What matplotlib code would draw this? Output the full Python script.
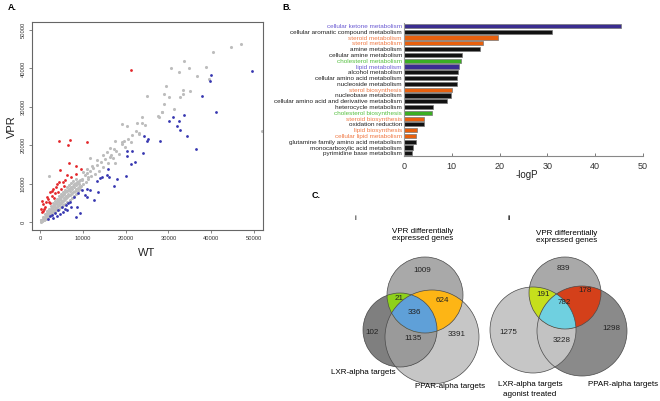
import numpy as np
import matplotlib
matplotlib.use('Agg')
import matplotlib.pyplot as plt
from matplotlib.patches import Circle, Polygon

plt.rcParams['font.family'] = ['Liberation Sans', 'DejaVu Sans']

# ---- panel A: scatter (WT, VPR) ----
gray_pts = [
    (150, 100), (300, 400), (450, 250), (600, 700), (700, 400), (850, 1000), (950, 650), (1100, 1400),
    (1200, 900), (1300, 1700), (1450, 1150), (1500, 2000), (1650, 1400), (1750, 2300), (1850, 1600),
    (1950, 2600), (2050, 1900), (2200, 2900), (2300, 2100), (2400, 3200), (2550, 2400), (2650, 3500),
    (2750, 2600), (2850, 3800), (3000, 2900), (3100, 4100), (3200, 3200), (3300, 4400), (3450, 3400),
    (3550, 4700), (3650, 3700), (3750, 5000), (3900, 3900), (4000, 5300), (4100, 4200), (4250, 5600),
    (4350, 4400), (4450, 5900), (4600, 4700), (4700, 6200), (4800, 5000), (4950, 6500), (5100, 5200),
    (5200, 6800), (5300, 5500), (5450, 7100), (5600, 5800), (5700, 7400), (5850, 6000), (5950, 7700),
    (6100, 6300), (6250, 8000), (6350, 6600), (6500, 8300), (6650, 6800), (6750, 8600), (6900, 7100),
    (7050, 8900), (7200, 7300), (7350, 9200), (7500, 7600), (7650, 9500), (7800, 7900), (7950, 9800),
    (8100, 8200), (8300, 10100), (8450, 8500), (8600, 10400), (8800, 8800), (9000, 10700), (9200, 9100),
    (9400, 11000), (9600, 9400), (9850, 11300),
    (500, 500), (1000, 1100), (1500, 1600), (2000, 2200), (2500, 2800), (3000, 3400), (3500, 4000),
    (4000, 4600), (4500, 5100), (5000, 5800), (5500, 6300), (6000, 6900), (6500, 7400), (7000, 8000),
    (7500, 8500), (8000, 9100), (8500, 9600), (9000, 9900),
    (250, 600), (750, 1300), (1250, 2100), (1700, 2800), (2200, 3500), (2650, 4200), (3100, 4900),
    (3550, 5500), (4000, 6100), (4450, 6700), (4900, 7300), (5350, 7800), (5800, 8400), (6300, 9000),
    (6800, 9600), (7300, 10200), (7800, 10800), (8300, 11300),
    (400, 150), (900, 500), (1400, 800), (1900, 1200), (2400, 1700), (2900, 2100), (3400, 2500),
    (3900, 3000), (4400, 3400), (4900, 3900), (5400, 4300), (5900, 4800), (6400, 5300), (6900, 5800),
    (7400, 6300), (7900, 6900), (8400, 7400), (8900, 8000), (9400, 8500),
    (10100, 10000), (10400, 12200), (10700, 10500), (11000, 12800), (11300, 11200), (11700, 13300),
    (12000, 12000), (12400, 14000), (12800, 12600), (13300, 14800), (13700, 13400), (14200, 15600),
    (14800, 14200), (15300, 16400), (15900, 15400), (16500, 17400), (17000, 16600), (17800, 18600),
    (18400, 17800), (19200, 20200), (19800, 19600), (20500, 21600), (21300, 20900), (22400, 23800),
    (23200, 22800), (24500, 25200),
    (11680, 16560), (13240, 16120), (14790, 17420), (15580, 18280), (16350, 16980), (17520, 15260),
    (10900, 13700), (10120, 13080), (12070, 14560), (11290, 11780), (9740, 10920), (8950, 10220),
    (2100, 12000), (19620, 21140), (19080, 20720), (17520, 21140), (17290, 18900), (16350, 19160),
    (23130, 23220), (23760, 25660), (22590, 25820), (21420, 22620), (20250, 24960), (19230, 25480),
    (27640, 27560), (28570, 28680), (23900, 27300), (27870, 27380), (28420, 28520), (29040, 30600),
    (31370, 29300), (25070, 32760), (28970, 33360), (30060, 32500), (29360, 35440), (32700, 32500),
    (33330, 33460), (33330, 34320), (35040, 34060), (30680, 40040), (32470, 39180), (33640, 42040),
    (34880, 40040), (36600, 37960), (38780, 40300), (39480, 37180), (40340, 44200), (44550, 45680),
    (46880, 46280), (51790, 23740),
]
red_pts = [
    (21190, 39500), (4440, 21140), (7010, 21400), (6610, 20100), (11050, 20720), (6770, 15340),
    (8340, 14480), (4670, 13520), (9510, 13700), (6240, 12220), (8410, 12480), (7200, 11600),
    (4510, 10480), (5300, 10480), (3110, 8580), (2340, 7720), (3500, 7460), (4280, 7880), (1560, 6420),
    (540, 5540), (1940, 5900), (630, 4600), (160, 3300), (1170, 3980), (2340, 4860), (770, 2860),
    (3800, 9200), (2700, 6900), (1300, 5100), (400, 2500), (5600, 9300), (4900, 8700), (3300, 6300),
    (900, 3500), (2000, 5300), (2900, 8000), (5800, 11000), (3900, 10000),
]
blue_pts = [
    (49600, 39340), (39950, 38300), (39710, 36740), (37920, 32940), (41040, 28600), (33710, 27900),
    (31140, 27300), (30200, 26340), (32470, 26340), (32070, 25040), (32700, 23920), (34410, 22360),
    (36440, 18980), (28030, 21140), (25300, 21500), (24920, 21060), (24130, 17860), (24290, 22440),
    (20250, 18460), (21420, 18540), (20400, 17240), (22190, 15520), (21190, 15000), (20090, 11960),
    (17910, 11100), (17360, 9360), (15960, 13700), (16190, 11780), (14020, 11360), (13620, 7880),
    (12610, 5720), (11050, 6580), (10510, 7020), (9340, 2260), (8410, 1220), (2340, 1560), (3500, 2260),
    (4280, 3120), (5070, 3980), (6070, 4420), (7010, 5280), (7940, 6420), (8950, 7460), (9740, 8320),
    (4670, 2000), (3110, 960), (5440, 2680), (4050, 1560), (7170, 3820), (8570, 3980), (10900, 8580),
    (11680, 8320), (13240, 10660), (14410, 11780), (15720, 12220), (6240, 3120), (1800, 900),
    (2800, 1700), (6600, 4900), (5800, 3400),
]

# ---- panel B: GO terms ----
terms = ['cellular ketone metabolism', 'cellular aromatic compound metabolism', 'steroid metabolism',
         'sterol metabolism', 'amine metabolism', 'cellular amine metabolism', 'cholesterol metabolism',
         'lipid metabolism', 'alcohol metabolism', 'cellular amino acid metabolism', 'nucleoside metabolism',
         'sterol biosynthesis', 'nucleobase metabolism', 'cellular amino acid and derivative metabolism',
         'heterocycle metabolism', 'cholesterol biosynthesis', 'steroid biosynthesis', 'oxidation reduction',
         'lipid biosynthesis', 'cellular lipid metabolism', 'glutamine family amino acid metabolism',
         'monocarboxylic acid metabolism', 'pyrimidine base metabolism']
logp = [45.3, 31.0, 19.7, 16.6, 15.9, 12.1, 12.0, 11.5, 11.3, 11.0, 11.0, 10.0, 9.8, 8.9, 6.1, 5.9,
        4.2, 4.2, 2.8, 2.6, 2.5, 1.8, 1.6]
groups = ['p', 'k', 'o', 'o', 'k', 'k', 'g', 'p', 'k', 'k', 'k', 'o', 'k', 'k', 'k', 'g', 'o', 'k',
          'o', 'o', 'k', 'k', 'k']

# ---- panel C: Venn counts ----
venn1_counts = [1009, 21, 624, 336, 102, 1135, 3391]
venn2_counts = [839, 191, 178, 782, 1275, 3228, 1298]

W, H = 660, 401
fig = plt.figure(figsize=(6.6, 4.01), dpi=100)


def px_rect(l, t, r, b):
    return [l / W, 1 - b / H, (r - l) / W, (b - t) / H]


# scatter
ax = fig.add_axes(px_rect(32, 22, 263, 230))
ax.scatter(*zip(*gray_pts), s=5, color='#bdbdbd', linewidths=0)
ax.scatter(*zip(*red_pts), s=4, color='#e3262a', linewidths=0)
ax.scatter(*zip(*blue_pts), s=4, color='#3636b0', linewidths=0)
ax.set_xlim(-1870, 52100)
ax.set_ylim(-2080, 52080)
ax.set_xticks(range(0, 50001, 10000))
ax.set_yticks(range(0, 50001, 10000))
ax.tick_params(labelsize=4.2, length=2.5, width=0.5, color='#555', labelcolor='#333', pad=2)
for lab in ax.get_yticklabels():
    lab.set_rotation(90)
    lab.set_va('center')
for s in ax.spines.values():
    s.set_color('#666')
    s.set_linewidth(0.8)

# bar chart
bx = fig.add_axes(px_rect(404, 23.1, 643, 156.2))
cmap_bar = {'p': '#3a2d8f', 'k': '#111111', 'o': '#e8600e', 'g': '#3aae22'}
cmap_txt = {'p': '#6b5bd2', 'k': '#222222', 'o': '#f07a45', 'g': '#55c040'}
y = np.arange(len(terms))
bx.barh(y, logp, height=0.72, color=[cmap_bar[g] for g in groups], edgecolor='#777', linewidth=0.5)
bx.set_ylim(len(terms) - 0.5, -0.5)
bx.set_xlim(0, 50)
bx.set_yticks(y)
bx.set_yticklabels(terms, fontsize=4.6)
for lab, g in zip(bx.get_yticklabels(), groups):
    lab.set_color(cmap_txt[g])
bx.tick_params(axis='y', length=0, pad=1.5)
bx.set_xticks(range(0, 51, 10))
bx.tick_params(axis='x', direction='in', length=2.5, width=0.6, color='#666', labelsize=6.5,
               labelcolor='#333', pad=4)
bx.spines['top'].set_visible(False)
bx.spines['right'].set_visible(False)
bx.spines['left'].set_color('#999')
bx.spines['bottom'].set_color('#888')

# overlay in pixel coordinates
ov = fig.add_axes([0, 0, 1, 1])
ov.set_xlim(0, W)
ov.set_ylim(H, 0)
ov.axis('off')
ov.set_zorder(5)

ov.text(12, 8, 'A.', fontsize=6.5, fontweight='bold', ha='center', va='center')
ov.text(287, 7, 'B.', fontsize=6.5, fontweight='bold', ha='center', va='center')
ov.text(316, 195, 'C.', fontsize=6.5, fontweight='bold', ha='center', va='center')
ov.text(12, 127, 'VPR', fontsize=8, rotation=90, ha='center', va='center', color='#222')
ov.text(147, 253, 'WT', fontsize=8, ha='center', va='center', color='#222')
ov.text(527, 175, '-logP', fontsize=7, ha='center', va='center', color='#222')


def region(circles):
    t = np.linspace(0, 2 * np.pi, 720, endpoint=False)
    pts = []
    for cx, cy, r in circles:
        p = np.column_stack([cx + r * np.cos(t), cy + r * np.sin(t)])
        ok = np.ones(len(p), bool)
        for ox, oy, orr in circles:
            ok &= (p[:, 0] - ox) ** 2 + (p[:, 1] - oy) ** 2 <= orr ** 2 + 1e-6
        pts.append(p[ok])
    pts = np.vstack(pts)
    c = pts.mean(axis=0)
    ang = np.arctan2(pts[:, 1] - c[1], pts[:, 0] - c[0])
    return pts[np.argsort(ang)]


def venn(top, left, right, cols, counts, pos):
    c_top, c_left, c_right, c_lr, c_tl, c_tr, c_all = cols
    for circ, col in [([right], c_right), ([left], c_left), ([left, right], c_lr), ([top], c_top),
                      ([top, left], c_tl), ([top, right], c_tr), ([top, left, right], c_all)]:
        ov.add_patch(Polygon(region(circ), closed=True, facecolor=col, edgecolor='none'))
    for cx, cy, r in (top, left, right):
        ov.add_patch(Circle((cx, cy), r, fill=False, edgecolor='#4a4a4a', linewidth=0.5))
    for n, (x, yy) in zip(counts, pos):
        ov.text(x, yy, str(n), fontsize=5.8, ha='center', va='center', color='#222')


vfs = 5.8
venn((425, 295, 38), (400, 330, 37), (432, 337, 47),
     ['#a9a9a9', '#7f7f7f', '#c6c6c6', '#9a9a9a', '#8ed11a', '#fdb515', '#5fa0d8'],
     venn1_counts,
     [(422, 270), (399, 298), (442, 301), (414, 312), (372, 333), (413, 338), (457, 334)])
ov.text(355, 218, 'i', fontsize=vfs, ha='center', va='center')
ov.text(423, 235, 'VPR differentially\nexpressed genes', fontsize=vfs, ha='center', va='center',
        linespacing=1.15)
ov.text(363, 373, 'LXR-alpha targets', fontsize=vfs, ha='center', va='center')
ov.text(450, 386, 'PPAR-alpha targets', fontsize=vfs, ha='center', va='center')

venn((565, 293, 36), (533, 330, 43), (582, 331, 45),
     ['#a9a9a9', '#c6c6c6', '#8a8a8a', '#c2c2c2', '#c6df1c', '#d4401a', '#6fd0e0'],
     venn2_counts,
     [(563, 268), (543, 295), (585, 290), (564, 303), (508, 332), (562, 341), (611, 329)])
ov.text(509, 218, 'ii', fontsize=vfs, ha='center', va='center')
ov.text(567, 237, 'VPR differentially\nexpressed genes', fontsize=vfs, ha='center', va='center',
        linespacing=1.15)
ov.text(530, 384, 'LXR-alpha targets', fontsize=vfs, ha='center', va='center')
ov.text(530, 395, 'agonist treated', fontsize=vfs, ha='center', va='center')
ov.text(623, 384, 'PPAR-alpha targets', fontsize=vfs, ha='center', va='center')

fig.savefig('out.png', dpi=100)
